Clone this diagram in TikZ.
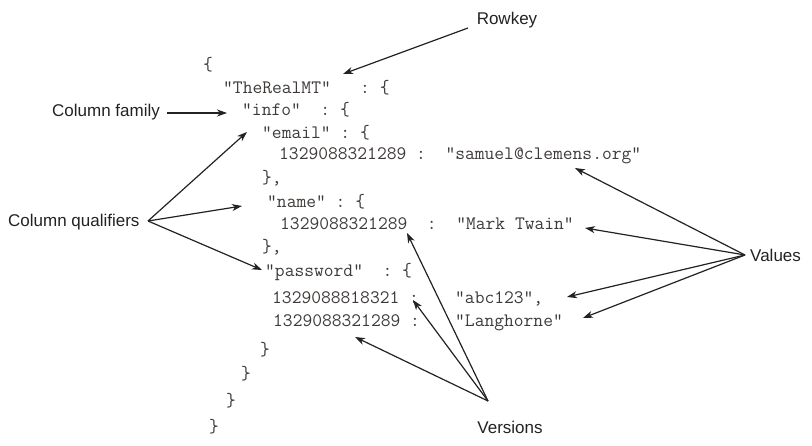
\documentclass[tikz,border=0pt]{standalone}
\usepackage{fontspec}
\setmainfont{Liberation Sans}
\usetikzlibrary{arrows.meta}
\definecolor{codecol}{HTML}{3E3A38}
\definecolor{labcol}{HTML}{222222}
\begin{document}
\begin{tikzpicture}[x=1pt,y=-1pt,
  code/.style={font=\ttfamily\fontsize{19}{21}\selectfont, text=codecol, anchor=base west, inner sep=0pt},
  lab/.style={font=\fontsize{17}{20}\selectfont, text=labcol, inner sep=0pt},
  arr/.style={-{Stealth[length=10pt,width=7pt,inset=3pt]}, line width=1.2pt, draw=labcol}]
\useasboundingbox (0,0) rectangle (812,446);
% code lines (baseline = centre + 6)
\node[code] (c0)  at (203,71)  {\{};
\node[code] (c1)  at (223,94)  {"TheRealMT"~~~:~\{};
\node[code] (c2)  at (242,116) {"info"~~:~\{};
\node[code] (c3)  at (262,139) {"email"~:~\{};
\node[code] (c4)  at (279,160) {1329088321289~:~~"samuel@clemens.org"};
\node[code] (c5)  at (262,184) {\},};
\node[code] (c6)  at (267,208) {"name"~:~\{};
\node[code] (c7)  at (280,230) {1329088321289~~:~~"Mark Twain"};
\node[code] (c8)  at (262,253) {\},};
\node[code] (c9)  at (265,277) {"password"~~:~\{};
\node[code] (c10) at (272,304) {1329088818321~:};
\node[code] (c10b) at (455,304) {"abc123",};
\node[code] (c11) at (273,327) {1329088321289~:};
\node[code] (c11b) at (455,327) {"Langhorne"};
\node[code] (c12) at (260,356) {\}};
\node[code] (c13) at (241,380) {\}};
\node[code] (c14) at (226,407) {\}};
\node[code] (c15) at (209,433) {\}};
% labels
\node[lab] (rowkey) at (507,20) {Rowkey};
\node[lab,anchor=west] (colfam) at (52,112) {Column family};
\node[lab,anchor=west] (colq) at (8,222) {Column qualifiers};
\node[lab,anchor=west] (values) at (750,255) {Values};
\node[lab] (versions) at (510,427) {Versions};
% connector coordinates
\coordinate (rkS) at (468,28);   \coordinate (rkT) at (343,74);
\coordinate (cfS) at (167,113);  \coordinate (cfT) at (227,113);
\coordinate (cqS) at (148,221);
\coordinate (cqT1) at (247,132); \coordinate (cqT2) at (242,206); \coordinate (cqT3) at (262,270);
\coordinate (vaS) at (745,255);
\coordinate (vaT1) at (575,168); \coordinate (vaT2) at (585,228);
\coordinate (vaT3) at (567,297); \coordinate (vaT4) at (583,318);
\coordinate (veS) at (488,401);
\coordinate (veT1) at (407,233); \coordinate (veT2) at (413,300); \coordinate (veT3) at (355,337);
% connectors
\draw[arr] (rkS) -- (rkT);
\draw[arr] (cfS) -- (cfT);
\draw[arr] (cqS) -- (cqT1);
\draw[arr] (cqS) -- (cqT2);
\draw[arr] (cqS) -- (cqT3);
\draw[arr] (vaS) -- (vaT1);
\draw[arr] (vaS) -- (vaT2);
\draw[arr] (vaS) -- (vaT3);
\draw[arr] (vaS) -- (vaT4);
\draw[arr] (veS) -- (veT1);
\draw[arr] (veS) -- (veT2);
\draw[arr] (veS) -- (veT3);
\end{tikzpicture}
\end{document}
